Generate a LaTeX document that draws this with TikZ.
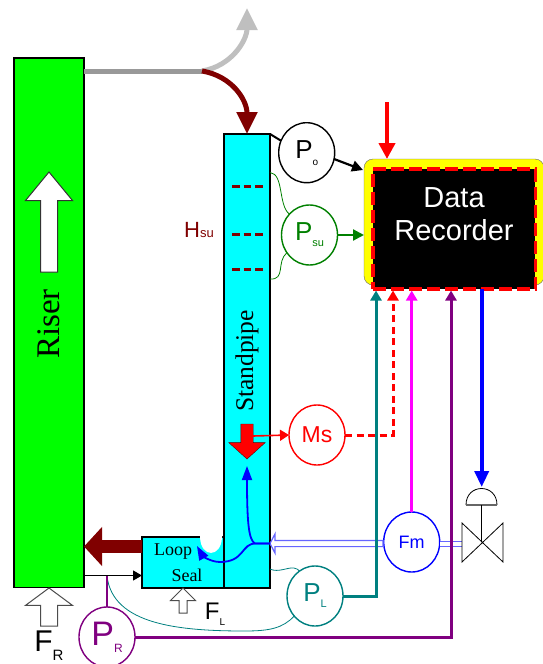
\documentclass[tikz,border=0pt]{standalone}
\usepackage{fontspec}
\setmainfont{Liberation Sans}
\newfontfamily\timesfont{Liberation Serif}
\definecolor{deepmaroon}{RGB}{128,0,0}
\definecolor{deepgreen}{RGB}{0,128,0}
\definecolor{deepteal}{RGB}{0,128,128}
\definecolor{deeppurple}{RGB}{128,0,128}
\definecolor{purecyan}{RGB}{0,255,255}
\definecolor{puregreen}{RGB}{0,255,0}
\definecolor{puremagenta}{RGB}{255,0,255}
\definecolor{pureyellow}{RGB}{255,255,0}
\definecolor{purered}{RGB}{255,0,0}
\definecolor{pureblue}{RGB}{0,0,255}
\usetikzlibrary{
  shapes.geometric,
  shapes.arrows,
  arrows.meta,
  calc
}
% size, letter, index size, index, drop
\newcommand{\indexed}[5]{\fontsize{#1}{#1}\selectfont #2\raisebox{-#5pt}{\fontsize{#3}{#3}\selectfont #4}}

\begin{document}
\begin{tikzpicture}[
  x=1pt, y=-1pt,
  column/.style={rectangle, draw, line width=1.8pt, inner sep=0pt, outer sep=0pt},
  gauge/.style={ellipse, draw, fill=white, line width=1.4pt, minimum width=56pt, minimum height=60pt, inner sep=0pt, outer sep=0pt},
  hollow/.style={single arrow, draw=black!70, fill=white, line width=1pt, outer sep=0pt, anchor=tip, rotate=90, single arrow head indent=0pt},
  serif/.style={font=\timesfont\fontsize{#1}{#1}\selectfont, inner sep=0pt},
  tap/.style={line width=0.8pt},
  signal/.style={-{Triangle[width=11pt,length=10pt]}, line width=3pt},
  levelmark/.style={deepmaroon, line width=3pt, dash pattern=on 7.5pt off 4pt}
]
  \useasboundingbox (0,0) rectangle (542,664);

  % columns
  \node[column, fill=puregreen, minimum width=70pt, minimum height=529.5pt] (riser) at (49,322.75) {};
  \node[column, fill=purecyan, minimum width=82pt, minimum height=51pt] (seal) at (183,562.5) {};
  \node[column, fill=purecyan, minimum width=46pt, minimum height=454pt] (pipe) at (247,361) {};
  \fill[white] (200,535.5) -- (200,537.5) .. controls (201,558) and (221,558) .. (222,537.5) -- (222,535.5) -- cycle;

  \node[serif=33, rotate=90] (risertext) at (49,324) {Riser};
  \node[serif=25.5, rotate=90] (pipetext) at (247,361) {Standpipe};
  \node[serif=18] (looptext) at (173,552) {Loop};
  \node[serif=18] (sealtext) at (187,575) {Seal};

  \draw[levelmark] (232,186) -- (263,186);
  \draw[levelmark] (232,234) -- (263,234);
  \draw[levelmark] (232,269) -- (263,269);
  \node[deepmaroon, inner sep=0pt] (hsu) at (199,230) {\indexed{22}{H}{13}{su}{0}};

  % white flow arrows
  \node[hollow, draw=black!80, inner sep=8pt, minimum height=100pt, single arrow head extend=15pt, single arrow tip angle=79] (riserflow) at (49,172) {};
  \node[hollow, inner sep=8pt, minimum height=38pt, single arrow head extend=15pt, single arrow tip angle=107] (frflow) at (49,588) {};
  \node[hollow, inner sep=3.5pt, minimum height=25pt, single arrow head extend=8.5pt, single arrow tip angle=90] (flflow) at (183,588) {};
  \node[inner sep=0pt] (fr) at (49,646) {\indexed{30}{F}{15}{R}{9}};
  \node[inner sep=0pt] (fl) at (215,614) {\indexed{24}{F}{10}{L}{6}};

  % solids split at the top
  \coordinate (split) at (202,71);
  \coordinate (exit) at (247,8);
  \draw[line width=5pt, black!40] (riser.east |- split) -- (split);
  \draw[-{Triangle[width=20pt,length=22pt]}, line width=5pt, black!25] (split) .. controls (232,66) and (247,40) .. (exit);
  \draw[-{Triangle[width=20pt,length=22pt]}, line width=5pt, deepmaroon] (split) .. controls (232,76) and (247,100) .. (pipe.north);

  % recorder
  \node[rectangle, rounded corners=9pt, draw=black!60, fill=pureyellow, minimum width=180pt, minimum height=126pt, inner sep=0pt, outer sep=0pt] (frame) at (454,222) {};
  \node[rectangle, fill=black, draw=purered, line width=3.4pt, dash pattern=on 13pt off 5pt, minimum width=162.5pt, minimum height=120pt, inner sep=0pt, outer sep=0pt] (recorder) at (454.2,229) {};
  \node[white, align=center, inner sep=0pt, font=\fontsize{29}{33}\selectfont] (recordertext) at (454,214) {Data\\Recorder};
  \coordinate (alarm) at (387,102);
  \draw[-{Triangle[width=16pt,length=16pt]}, line width=4pt, purered] (alarm) -- (alarm |- frame.north);

  % gauges
  \node[gauge] (po) at (306.7,152.7) {\indexed{26}{P}{10}{o}{7}};
  \node[gauge, draw=deepgreen, text=deepgreen] (psu) at (309.5,235) {\indexed{26}{P}{11}{su}{6}};
  \node[gauge, draw=purered, text=purered] (ms) at (317,435) {\fontsize{23}{23}\selectfont Ms};
  \node[gauge, draw=pureblue, text=pureblue] (fm) at (411.7,542) {\fontsize{18}{18}\selectfont Fm};
  \node[gauge, draw=deepteal, text=deepteal] (pl) at (315,596) {\indexed{26}{P}{11}{L}{6}};
  \node[gauge, draw=deeppurple, text=deeppurple] (pr) at (107,637) {\indexed{34}{P}{12}{R}{7}};

  \draw[line width=2pt] (pipe.north east) -- (po.155);
  \draw[-{Triangle[width=11pt,length=11pt]}, line width=2.2pt] (po.-13) -- ($(frame.north west)+(-1,11)$);
  \draw[tap, deepgreen] ($(pipe.north east)+(0,38.5)$) .. controls (284,174) and (278,205) .. (psu.134);
  \draw[tap, deepgreen] ($(pipe.north east)+(0,145)$) .. controls (286,280) and (276,262) .. (psu.218);
  \draw[-{Triangle[width=11pt,length=11pt]}, line width=2.2pt, deepgreen] (psu.east) -- (frame.west |- psu);

  % flow lines
  \coordinate (inlet) at (270,543.5);
  \coordinate (valveleft) at (462,544);
  \coordinate (valvemid) at (481.7,542);
  \coordinate (acttop) at (481.7,487);
  \coordinate (rtap) at (107,575.5);
  \coordinate (inteal) at (376,290.5);
  \coordinate (indash) at (393,290.5);
  \coordinate (inmag) at (411.7,290.5);
  \coordinate (inpur) at (451,290.5);

  \draw[blue!60, line width=1.2pt, double=white, double distance=3.8pt] (valveleft) -- (fm.east |- valveleft);
  \node[single arrow, draw=pureblue!60, fill=white, line width=1.2pt, inner sep=2.5pt, outer sep=0pt, anchor=tip, rotate=180, minimum height=113pt, single arrow head extend=6.5pt, single arrow tip angle=125, single arrow head indent=0pt] (feedarrow) at (inlet) {};
  \draw[-{Triangle[width=10pt,length=14pt]}, line width=1.8pt, pureblue] (inlet) -- (255,543.5) .. controls (249,540) and (247,525) .. (247,466);
  \draw[-{Triangle[width=10pt,length=14pt]}, line width=1.8pt, pureblue] (inlet) -- (256,543.5) .. controls (241,543) and (245,562) .. (220,562) .. controls (210,562) and (202,555) .. (197,546);

  \node[single arrow, draw=deepmaroon!70!black, fill=purered, line width=0.4pt, inner sep=6pt, outer sep=0pt, anchor=tip, rotate=-90, minimum height=35pt, single arrow head extend=12pt, single arrow tip angle=96, single arrow head indent=0pt] (msflow) at (247,459) {};
  \draw[-{Triangle[width=11pt,length=9pt]}, line width=1.6pt, purered] (253,436) -- (ms.west);
  \draw[signal, purered, line width=3pt, dash pattern=on 7pt off 4.5pt] (ms.east) -| (indash);

  \draw[signal, deepteal] (pl.east) -| (inteal);
  \draw[signal, puremagenta] (fm.north) -- (inmag);
  \draw[signal, deeppurple] (pr.east) -| (inpur);

  \draw[tap, deepteal] ($(pipe.south east)+(0,-19)$) .. controls (278,573) and (288,567) .. (294,568) .. controls (297,568) and (298,570) .. (pl.122);
  \draw[tap, deepteal] (pl.224) .. controls (283,628) and (270,631) .. (245,631) .. controls (180,631) and (112,625) .. (rtap);

  % seal connections
  \draw[-{Triangle[width=10pt,length=9pt]}, line width=1.3pt] (riser.east |- rtap) -- (seal.west |- rtap);
  \draw[line width=2.6pt, deeppurple] (pr.north) -- (rtap);
  \draw[-{Triangle[width=38pt,length=18pt]}, line width=13pt, deepmaroon] (seal.west |- 0,546.5) -- (riser.east |- 0,546.5);

  % valve
  \draw[-{Triangle[width=14pt,length=16pt]}, line width=3.6pt, pureblue] (recorder.south -| acttop) -- (acttop);
  \draw[line width=0.8pt] (466,505) .. controls (466,483) and (497,483) .. (497,505);
  \draw[line width=1.2pt, black!60] (466,505) -- (497,505);
  \draw[line width=0.8pt] (acttop |- 0,505) -- (valvemid);
  \draw[line width=0.8pt] (462,523) -- (503,562) -- (503,523) -- (462,562) -- cycle;
\end{tikzpicture}
\end{document}
